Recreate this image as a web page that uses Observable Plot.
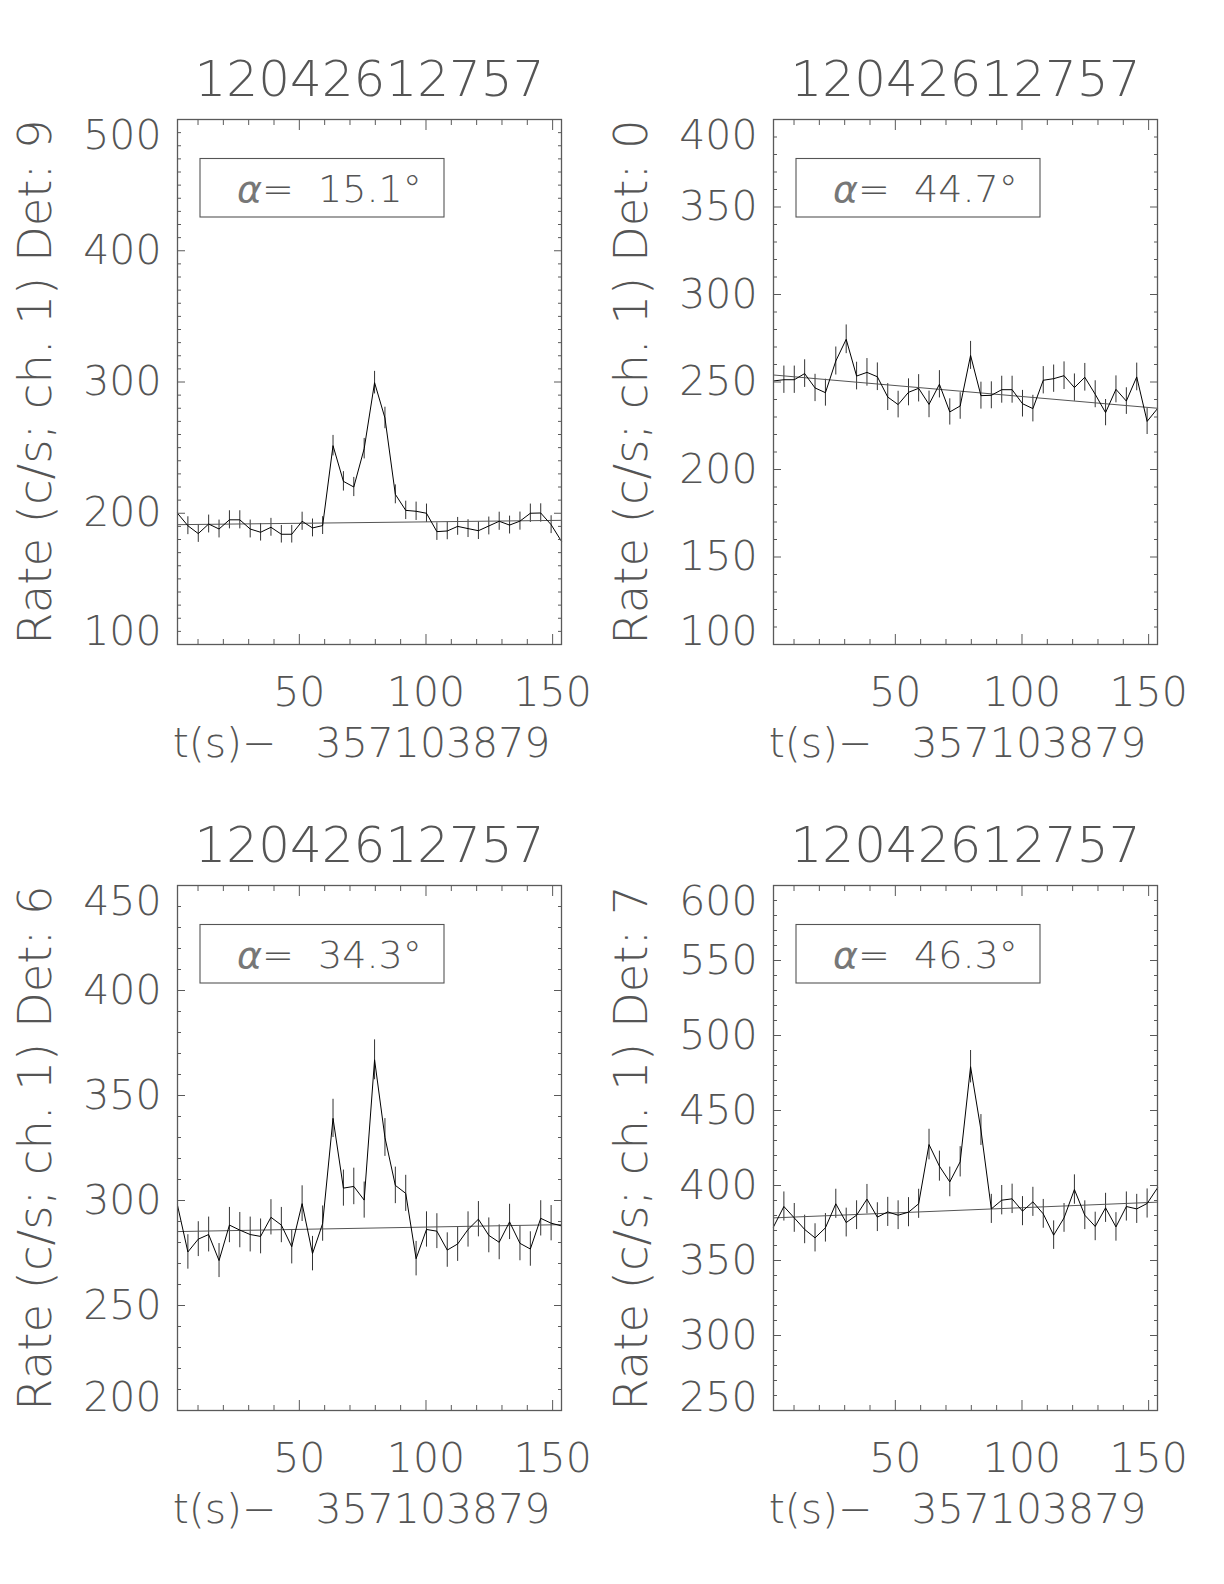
<!DOCTYPE html>
<html>
<head>
<meta charset="utf-8">
<script src="https://cdn.jsdelivr.net/npm/d3@7"></script>
<script src="https://cdn.jsdelivr.net/npm/@observablehq/plot@0.6"></script>
<style>
  html, body { margin: 0; padding: 0; background: #fff; }
  #root { position: relative; width: 1224px; height: 1584px; background: #fff; overflow: hidden; }
  .panel { position: absolute; }
</style>
</head>
<body>
<div id="root"></div>
<script>
// ---- data ----
const burstName = "12042612757";
const timeOffset = "357103879";

// bin centres, seconds after the offset
const times = [1.9, 6.0, 10.1, 14.2, 18.3, 22.4, 26.5, 30.6, 34.7, 38.8, 42.9, 47.0, 51.1, 55.2, 59.2, 63.3,
  67.4, 71.5, 75.6, 79.7, 83.8, 87.9, 92.0, 96.1, 100.2, 104.3, 108.4, 112.5, 116.6, 120.7, 124.8, 128.9,
  133.0, 137.1, 141.2, 145.3, 149.4, 153.5];

const detectors = ["9", "0", "6", "7"];
const alphas = ["15.1", "44.7", "34.3", "46.3"];

const rateDet9 = [200.0, 190.5, 184.5, 191.8, 188.0, 195.0, 195.0, 188.0, 185.5, 189.3, 184.0, 184.0, 193.9,
  188.8, 190.6, 251.5, 224.3, 220.0, 249.2, 299.5, 272.6, 214.4, 202.2, 201.5, 200.0, 186.0, 186.5, 190.0,
  188.3, 186.7, 190.3, 193.9, 191.0, 194.0, 200.0, 200.2, 191.3, 178.6];
const errDet9 = [7.0, 6.8, 6.7, 6.8, 6.8, 6.9, 6.9, 6.8, 6.7, 6.8, 6.7, 6.7, 6.9, 6.8, 6.8, 7.8, 7.4, 7.3,
  7.8, 8.6, 8.2, 7.2, 7.0, 7.0, 7.0, 6.7, 6.7, 6.8, 6.8, 6.7, 6.8, 6.9, 6.8, 6.9, 7.0, 7.0, 6.8, 6.6];
const fitDet9 = [191.3, 194.6];

const rateDet0 = [250.6, 251.3, 251.3, 254.8, 246.6, 243.9, 262.0, 274.4, 253.4, 255.5, 253.0, 241.4, 237.1,
  244.1, 246.4, 237.2, 248.7, 232.9, 236.3, 265.2, 242.2, 242.4, 245.6, 245.6, 237.6, 234.8, 251.0, 251.9,
  253.6, 246.8, 252.7, 243.0, 232.5, 245.8, 239.1, 252.9, 227.5, 234.8];
const errDet0 = [7.8, 7.8, 7.8, 7.9, 7.8, 7.7, 8.0, 8.2, 7.9, 7.9, 7.9, 7.7, 7.6, 7.7, 7.8, 7.6, 7.8, 7.5,
  7.6, 8.0, 7.7, 7.7, 7.7, 7.7, 7.6, 7.6, 7.8, 7.8, 7.9, 7.8, 7.9, 7.7, 7.5, 7.7, 7.6, 7.9, 7.5, 7.6];
const fitDet0 = [254.0, 235.0];

const rateDet6 = [297.7, 275.5, 281.6, 283.8, 271.4, 288.3, 285.9, 283.8, 282.9, 292.0, 288.3, 278.0, 298.5,
  274.7, 289.0, 339.1, 305.9, 306.7, 300.2, 367.0, 330.0, 307.2, 303.4, 272.3, 286.2, 285.4, 276.4, 279.3,
  286.2, 291.1, 283.4, 280.1, 289.8, 279.6, 276.9, 291.5, 289.2, 287.9];
const errDet6 = [8.5, 8.2, 8.3, 8.3, 8.1, 8.4, 8.4, 8.3, 8.3, 8.4, 8.4, 8.2, 8.5, 8.2, 8.4, 9.1, 8.6, 8.7,
  8.6, 9.5, 9.0, 8.7, 8.6, 8.2, 8.4, 8.3, 8.2, 8.3, 8.4, 8.4, 8.3, 8.3, 8.4, 8.3, 8.2, 8.4, 8.4, 8.4];
const fitDet6 = [285.2, 288.5];

const rateDet7 = [372.4, 386.0, 378.4, 370.7, 365.1, 371.8, 387.8, 375.3, 380.2, 390.9, 378.9, 382.4, 380.2,
  382.2, 387.8, 427.3, 412.9, 402.4, 415.8, 479.2, 437.0, 384.4, 390.2, 391.1, 382.9, 389.1, 381.1, 366.9,
  378.4, 397.3, 380.2, 372.7, 385.1, 372.4, 386.0, 384.4, 388.0, 398.4];
const errDet7 = [9.5, 9.7, 9.6, 9.5, 9.4, 9.5, 9.7, 9.6, 9.6, 9.8, 9.6, 9.7, 9.6, 9.7, 9.7, 10.2, 10.0, 9.9,
  10.1, 10.8, 10.3, 9.7, 9.8, 9.8, 9.7, 9.7, 9.6, 9.5, 9.6, 9.8, 9.6, 9.5, 9.7, 9.5, 9.7, 9.7, 9.7, 9.9];
const fitDet7 = [378.4, 388.9];

// axis ticks
const xMajorTicks = [50, 100, 150];
const xMinorTicks = [10, 20, 30, 40, 60, 70, 80, 90, 110, 120, 130, 140];
const yTicksDet9 = [100, 200, 300, 400, 500];
const yTicksDet0 = [100, 150, 200, 250, 300, 350, 400];
const yTicksDet6 = [200, 250, 300, 350, 400, 450];
const yTicksDet7 = [250, 300, 350, 400, 450, 500, 550, 600];

// ---- layout ----
const FONT = '"DejaVu Sans", "Liberation Sans", sans-serif';
const TXT = "#555";
const AX = "#5a5a5a";
const W = 600, H = 780, ML = 177, MT = 119, MR = 39, MB = 136;

const panels = [
  {det: detectors[0], alpha: alphas[0], rates: rateDet9, errs: errDet9, fit: fitDet9, yTicks: yTicksDet9, left: 0, top: 0},
  {det: detectors[1], alpha: alphas[1], rates: rateDet0, errs: errDet0, fit: fitDet0, yTicks: yTicksDet0, left: 596, top: 0},
  {det: detectors[2], alpha: alphas[2], rates: rateDet6, errs: errDet6, fit: fitDet6, yTicks: yTicksDet6, left: 0, top: 766},
  {det: detectors[3], alpha: alphas[3], rates: rateDet7, errs: errDet7, fit: fitDet7, yTicks: yTicksDet7, left: 596, top: 766}
];

const root = document.getElementById("root");

for (const p of panels) {
  const data = times.map((t, i) => ({t, r: p.rates[i], e: p.errs[i]}));
  const fit = [{t: times[0], r: p.fit[0]}, {t: times[times.length - 1], r: p.fit[1]}];
  const y0 = p.yTicks[0], y1 = p.yTicks[p.yTicks.length - 1];
  const yMinor = d3.range(y0, y1 + 0.1, 10).filter(v => !p.yTicks.includes(v));
  const yMid = p.yTicks.slice(1, -1);
  const noText = () => "";

  const plot = Plot.plot({
    width: W, height: H,
    marginLeft: ML, marginTop: MT, marginRight: MR, marginBottom: MB,
    x: {domain: [times[0], times[times.length - 1]], label: null},
    y: {domain: [y0, y1], label: null},
    style: {fontFamily: FONT, fontWeight: 200, background: "#fff", overflow: "visible"},
    marks: [
      Plot.ruleX(data, {x: "t", y1: d => d.r - d.e, y2: d => d.r + d.e, stroke: "#333", strokeWidth: 1}),
      Plot.line(fit, {x: "t", y: "r", stroke: "#555", strokeWidth: 1}),
      Plot.line(data, {x: "t", y: "r", stroke: "#000", strokeWidth: 1}),
      // inward ticks on all four sides
      Plot.axisX({ticks: xMinorTicks, anchor: "bottom", tickSize: -5, tickFormat: noText, color: AX}),
      Plot.axisX({ticks: xMinorTicks, anchor: "top", tickSize: -5, tickFormat: noText, color: AX}),
      Plot.axisX({ticks: xMajorTicks, anchor: "bottom", tickSize: -10, tickFormat: noText, color: AX}),
      Plot.axisX({ticks: xMajorTicks, anchor: "top", tickSize: -10, tickFormat: noText, color: AX}),
      Plot.axisY({ticks: yMinor, anchor: "left", tickSize: -4, tickFormat: noText, color: AX}),
      Plot.axisY({ticks: yMinor, anchor: "right", tickSize: -4, tickFormat: noText, color: AX}),
      Plot.axisY({ticks: p.yTicks, anchor: "left", tickSize: -8, tickFormat: noText, color: AX}),
      Plot.axisY({ticks: p.yTicks, anchor: "right", tickSize: -8, tickFormat: noText, color: AX}),
      // tick labels
      Plot.axisX({ticks: xMajorTicks, anchor: "bottom", tickSize: 0, tickPadding: 32, fontSize: 41, color: TXT}),
      Plot.axisY({ticks: yMid, anchor: "left", tickSize: 0, tickPadding: 16, fontSize: 41, color: TXT}),
      Plot.axisY({ticks: [y1], anchor: "left", tickSize: 0, tickPadding: 16, fontSize: 41, color: TXT, lineAnchor: "top"}),
      Plot.axisY({ticks: [y0], anchor: "left", tickSize: 0, tickPadding: 16, fontSize: 41, color: TXT, lineAnchor: "bottom"}),
      Plot.frame({stroke: AX, strokeWidth: 1.3}),
      // titles
      Plot.text([burstName], {frameAnchor: "top", dy: -40, fontSize: 50, fill: TXT, lineAnchor: "middle"}),
      Plot.text(["t(s)\u2212\u00a0\u00a0\u00a0" + timeOffset], {frameAnchor: "bottom", dx: -8, dy: 99, fontSize: 41, fill: TXT, lineAnchor: "middle", textAnchor: "middle"}),
      Plot.text(["Rate (c/s; ch. 1) Det: " + p.det], {frameAnchor: "left", dx: -141, rotate: -90, fontSize: 46.5, fill: TXT, lineAnchor: "middle", textAnchor: "middle"})
    ]
  });

  // annotation box with the angle
  const svg = d3.select(plot);
  const g = svg.append("g");
  g.append("rect")
    .attr("x", ML + 23).attr("y", MT + 39.5)
    .attr("width", 244).attr("height", 58.5)
    .attr("fill", "none").attr("stroke", "#555").attr("stroke-width", 1.1);
  const t = g.append("text")
    .attr("x", ML + 60).attr("y", MT + 69).attr("dy", "0.36em")
    .attr("text-anchor", "start")
    .attr("font-size", 38).attr("font-family", FONT).attr("font-weight", 200)
    .attr("fill", TXT);
  t.append("tspan").attr("font-style", "italic").attr("fill", "#777").text("\u03b1");
  t.append("tspan").text("=\u00a0\u00a0" + p.alpha + "\u00b0");

  const div = document.createElement("div");
  div.className = "panel";
  div.style.left = p.left + "px";
  div.style.top = p.top + "px";
  div.appendChild(plot);
  root.appendChild(div);
}
</script>
</body>
</html>
